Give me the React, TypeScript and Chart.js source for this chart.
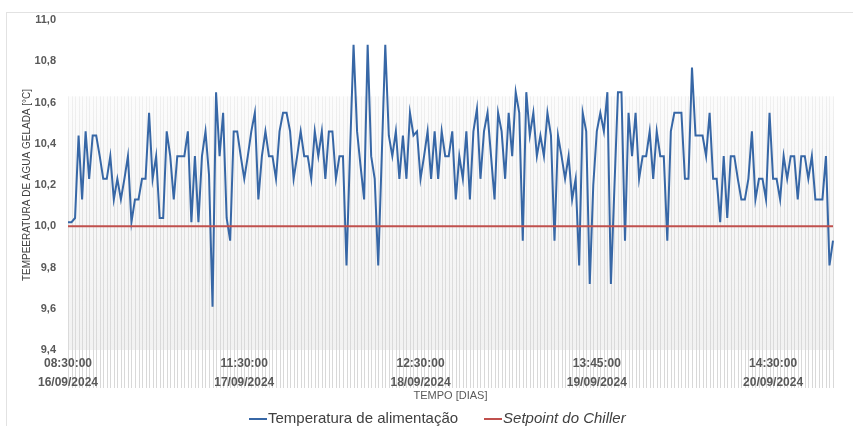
import React, { useEffect, useRef } from "react";
import { Chart, registerables } from "chart.js";

Chart.register(...registerables);

// Temperature readings (°C), one per time step
const temps: number[] = [
  10.02, 10.02, 10.04, 10.44, 10.13, 10.46, 10.23, 10.44, 10.44, 10.34,
  10.23, 10.23, 10.34, 10.13, 10.23, 10.13, 10.23, 10.34, 10.02, 10.13,
  10.13, 10.23, 10.23, 10.55, 10.23, 10.34, 10.04, 10.04, 10.46, 10.34,
  10.13, 10.34, 10.34, 10.34, 10.46, 10.02, 10.34, 10.02, 10.34, 10.46,
  10.25, 9.61, 10.65, 10.34, 10.55, 10.04, 9.93, 10.46, 10.46, 10.34,
  10.23, 10.34, 10.46, 10.55, 10.13, 10.34, 10.46, 10.34, 10.34, 10.23,
  10.46, 10.55, 10.55, 10.46, 10.23, 10.34, 10.46, 10.34, 10.34, 10.23,
  10.46, 10.34, 10.46, 10.23, 10.46, 10.46, 10.23, 10.34, 10.34, 9.81,
  10.36, 10.88, 10.46, 10.29, 10.13, 10.88, 10.34, 10.23, 9.81, 10.34,
  10.88, 10.44, 10.34, 10.46, 10.23, 10.44, 10.23, 10.55, 10.44, 10.46,
  10.23, 10.34, 10.46, 10.23, 10.46, 10.23, 10.46, 10.34, 10.34, 10.46,
  10.13, 10.34, 10.23, 10.46, 10.13, 10.46, 10.57, 10.23, 10.46, 10.55,
  10.34, 10.13, 10.55, 10.46, 10.23, 10.55, 10.34, 10.65, 10.55, 9.93,
  10.65, 10.44, 10.55, 10.34, 10.44, 10.34, 10.55, 10.44, 9.93, 10.44,
  10.34, 10.23, 10.34, 10.13, 10.23, 9.81, 10.55, 10.46, 9.72, 10.2,
  10.46, 10.55, 10.46, 10.65, 9.72, 10.19, 10.65, 10.65, 9.93, 10.55,
  10.34, 10.55, 10.23, 10.34, 10.34, 10.46, 10.23, 10.46, 10.34, 10.34,
  9.93, 10.46, 10.55, 10.55, 10.55, 10.23, 10.23, 10.77, 10.44, 10.44,
  10.44, 10.34, 10.55, 10.23, 10.23, 10.02, 10.34, 10.04, 10.34, 10.34,
  10.23, 10.13, 10.13, 10.23, 10.46, 10.13, 10.23, 10.23, 10.13, 10.55,
  10.23, 10.23, 10.13, 10.34, 10.23, 10.34, 10.34, 10.13, 10.34, 10.34,
  10.23, 10.34, 10.13, 10.13, 10.13, 10.34, 9.81, 9.93,
];

const SETPOINT = 10.0;
const tickTimes: string[] = ["08:30:00", "11:30:00", "12:30:00", "13:45:00", "14:30:00"];
const tickDates: string[] = ["16/09/2024", "17/09/2024", "18/09/2024", "19/09/2024", "20/09/2024"];
const TICK_EVERY = 50;
const Y_MIN = 9.4;
const Y_MAX = 11.0;
const Y_STEP = 0.2;
const BAND_TOP = 10.63;

const BLUE = "#3767a6";
const RED = "#c0504d";

const bandPlugin = {
  id: "band",
  beforeDraw(chart: any) {
    const { ctx, chartArea, scales } = chart;
    const x = scales.x;
    const y = scales.y;
    const top = y.getPixelForValue(BAND_TOP);
    const bottom = chartArea.bottom;
    const ext = bottom + 38;
    ctx.save();
    const bg = ctx.createLinearGradient(0, top, 0, bottom);
    bg.addColorStop(0, "#fcfcfc");
    bg.addColorStop(1, "#f2f2f2");
    ctx.fillStyle = bg;
    ctx.fillRect(chartArea.left, top, chartArea.right - chartArea.left, bottom - top);
    const g = ctx.createLinearGradient(0, top, 0, ext);
    g.addColorStop(0, "#f0f0f0");
    g.addColorStop(0.5, "#dedede");
    g.addColorStop(1, "#d8d8d8");
    ctx.strokeStyle = g;
    ctx.lineWidth = 1;
    ctx.beginPath();
    for (let i = 0; i < temps.length; i++) {
      const px = Math.round(x.getPixelForValue(i)) + 0.5;
      ctx.moveTo(px, top);
      ctx.lineTo(px, ext);
    }
    ctx.stroke();
    ctx.restore();
  },
};

export default function App() {
  const ref = useRef<HTMLCanvasElement | null>(null);

  useEffect(() => {
    if (!ref.current) return;
    const labels = temps.map((_, i) => String(i));
    const chart = new Chart(ref.current, {
      type: "line",
      data: {
        labels,
        datasets: [
          {
            label: "Temperatura de alimentação",
            data: temps,
            borderColor: BLUE,
            borderWidth: 2,
            pointRadius: 0,
            tension: 0,
            order: 1,
          },
          {
            label: "Setpoint do Chiller",
            data: temps.map(() => SETPOINT),
            borderColor: RED,
            borderWidth: 2,
            pointRadius: 0,
            tension: 0,
            order: 0,
          },
        ],
      },
      options: {
        responsive: false,
        animation: false,
        events: [],
        layout: { padding: { top: 20, right: 20, left: 0, bottom: 0 } },
        plugins: {
          legend: { display: false },
          tooltip: { enabled: false },
        },
        scales: {
          x: {
            offset: false,
            grid: { display: false, drawTicks: false },
            border: { display: false },
            ticks: {
              autoSkip: false,
              maxRotation: 0,
              minRotation: 0,
              padding: 4,
              color: "#595959",
              font: { family: "'Liberation Sans', Arial, sans-serif", size: 12, weight: "bold", lineHeight: 19 / 12 },
              callback: (_v: any, idx: number) => {
                if (idx % TICK_EVERY !== 0) return "";
                const k = idx / TICK_EVERY;
                return [tickTimes[k], tickDates[k]];
              },
            },
            title: {
              display: true,
              text: "TEMPO [DIAS]",
              color: "#595959",
              font: { family: "'Liberation Sans Narrow', 'Liberation Sans', sans-serif", size: 11 },
              padding: { top: 0, bottom: 2 },
            },
            afterFit: (s: any) => {
              s.height = 55;
            },
          },
          y: {
            min: Y_MIN,
            max: Y_MAX,
            grid: { display: false, drawTicks: false },
            border: { display: false },
            ticks: {
              stepSize: Y_STEP,
              padding: 12,
              color: "#595959",
              font: { family: "'Liberation Sans', Arial, sans-serif", size: 11, weight: "bold" },
              callback: (v: any) => Number(v).toFixed(1).replace(".", ","),
            },
            title: {
              display: true,
              text: "TEMPEERATURA DE ÁGUA GELADA [°C]",
              color: "#404040",
              font: { family: "'Liberation Sans Narrow', 'Liberation Sans', sans-serif", size: 10 },
              padding: { top: 21, bottom: 0 },
            },
            afterFit: (s: any) => {
              s.width = 68;
            },
          },
        },
      },
      plugins: [bandPlugin],
    });
    return () => chart.destroy();
  }, []);

  const legendText: React.CSSProperties = {
    fontFamily: "'Liberation Sans', Arial, sans-serif",
    fontSize: 15,
    color: "#404040",
    lineHeight: "18px",
    whiteSpace: "nowrap",
  };
  const dash = (color: string): React.CSSProperties => ({
    display: "inline-block",
    width: 18,
    height: 2,
    background: color,
    marginRight: 1,
    verticalAlign: "middle",
  });

  return (
    <div style={{ position: "fixed", left: 0, top: 0, width: 853, height: 426, background: "#fff" }}>
      <div
        style={{
          position: "absolute",
          left: 6,
          top: 12,
          width: 847,
          height: 414,
          borderTop: "1px solid #e2e2e2",
          borderLeft: "1px solid #e2e2e2",
        }}
      />
      <canvas ref={ref} width={853} height={405} style={{ position: "absolute", left: 0, top: 0 }} />
      <div style={{ position: "absolute", left: 249, top: 409, display: "flex", alignItems: "center" }}>
        <span style={legendText}>
          <span style={dash(BLUE)} />
          Temperatura de alimentação
        </span>
        <span style={{ ...legendText, marginLeft: 26 }}>
          <span style={dash(RED)} />
          <i>Setpoint do Chiller</i>
        </span>
      </div>
    </div>
  );
}
